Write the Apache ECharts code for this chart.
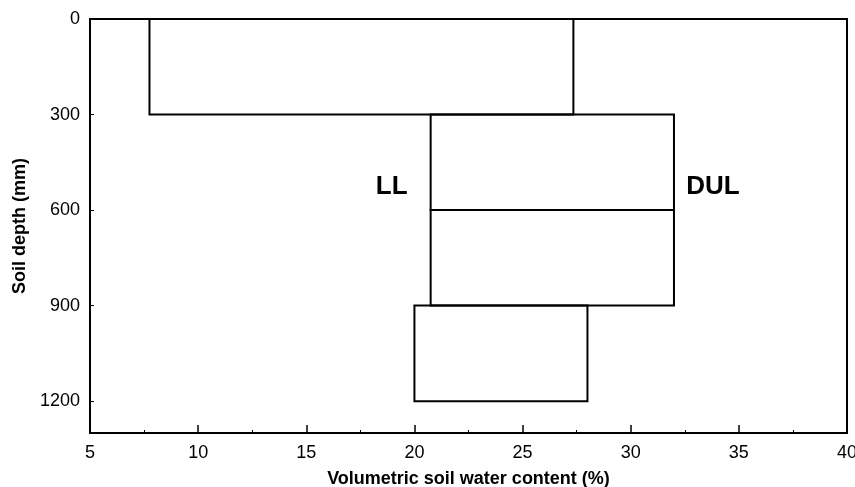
<!DOCTYPE html>
<html>
<head>
<meta charset="utf-8">
<script src="https://cdn.jsdelivr.net/npm/echarts@6/dist/echarts.min.js"></script>
<style>
  html, body { margin: 0; padding: 0; background: #fff; }
  #chart { width: 855px; height: 487px; }
</style>
</head>
<body>
<div id="chart"></div>
<script>
// Soil layers: depth bounds (mm) and water limits (% volumetric)
const depthTop = [0, 300, 600, 900];
const depthBottom = [300, 600, 900, 1200];
const lowerLimit = [7.75, 20.75, 20.75, 20.0];   // LL
const upperLimit = [27.35, 32.0, 32.0, 28.0];    // DUL

// Curve labels placed in data coordinates
const labelNames = ['LL', 'DUL'];
const labelWater = [18.95, 33.8];
const labelDepth = [527, 527];

// Axis ticks
const xTicks = [5, 10, 15, 20, 25, 30, 35, 40];
const depthTicks = [0, 300, 600, 900, 1200];

const FONT = '"Liberation Sans", Arial, Helvetica, sans-serif';

const layerData = depthTop.map((t, i) => [lowerLimit[i], upperLimit[i], t, depthBottom[i]]);
const labelData = labelNames.map((n, i) => ({ value: [labelWater[i], labelDepth[i]], name: n }));

const chart = echarts.init(document.getElementById('chart'), null, { renderer: 'canvas' });

chart.setOption({
  backgroundColor: '#fff',
  animation: false,
  grid: {
    left: 90, right: 8, top: 19, bottom: 54,
    outerBoundsMode: 'none',
    containLabel: false,
    show: true, borderColor: '#000', borderWidth: 2, backgroundColor: 'transparent'
  },
  xAxis: {
    type: 'value',
    position: 'bottom',
    min: xTicks[0], max: xTicks[xTicks.length - 1], interval: 5,
    name: 'Volumetric soil water content (%)',
    nameLocation: 'middle', nameGap: 37,
    nameTextStyle: { fontFamily: FONT, fontSize: 18, fontWeight: 'bold', color: '#000' },
    axisLine: { show: true, onZero: false, lineStyle: { color: '#000', width: 2 } },
    axisTick: { show: true, inside: true, length: 8, lineStyle: { color: '#000', width: 1.5 } },
    minorTick: { show: true, splitNumber: 2, length: 3, lineStyle: { color: '#000', width: 1 } },
    axisLabel: { fontFamily: FONT, fontSize: 18, color: '#000', margin: 11 },
    splitLine: { show: false }
  },
  yAxis: {
    type: 'value',
    position: 'left',
    inverse: true,
    min: depthTicks[0], max: 1300, interval: 300,
    name: 'Soil depth (mm)',
    nameLocation: 'middle', nameGap: 54, nameRotate: 90,
    nameTextStyle: { fontFamily: FONT, fontSize: 18, fontWeight: 'bold', color: '#000' },
    axisLine: { show: true, onZero: false, lineStyle: { color: '#000', width: 2 } },
    axisTick: { show: true, inside: true, length: 4, lineStyle: { color: '#000', width: 1 } },
    axisLabel: {
      fontFamily: FONT, fontSize: 18, color: '#000', margin: 10,
      showMaxLabel: false,
      formatter: v => (depthTicks.indexOf(v) >= 0 ? String(v) : '')
    },
    splitLine: { show: false }
  },
  series: [
    {
      type: 'custom',
      data: layerData,
      encode: { x: [0, 1], y: [2, 3] },
      renderItem: function (params, api) {
        const a = api.coord([api.value(0), api.value(2)]);
        const b = api.coord([api.value(1), api.value(3)]);
        return {
          type: 'rect',
          shape: { x: a[0], y: a[1], width: b[0] - a[0], height: b[1] - a[1] },
          style: { fill: 'none', stroke: '#000', lineWidth: 2 }
        };
      },
      silent: true
    },
    {
      type: 'scatter',
      data: labelData,
      symbolSize: 0,
      silent: true,
      itemStyle: { opacity: 1 },
      label: {
        show: true,
        position: 'inside',
        formatter: p => p.name,
        fontFamily: FONT, fontSize: 26, fontWeight: 'bold',
        color: '#000', textBorderWidth: 0, opacity: 1
      }
    }
  ]
});
</script>
</body>
</html>
